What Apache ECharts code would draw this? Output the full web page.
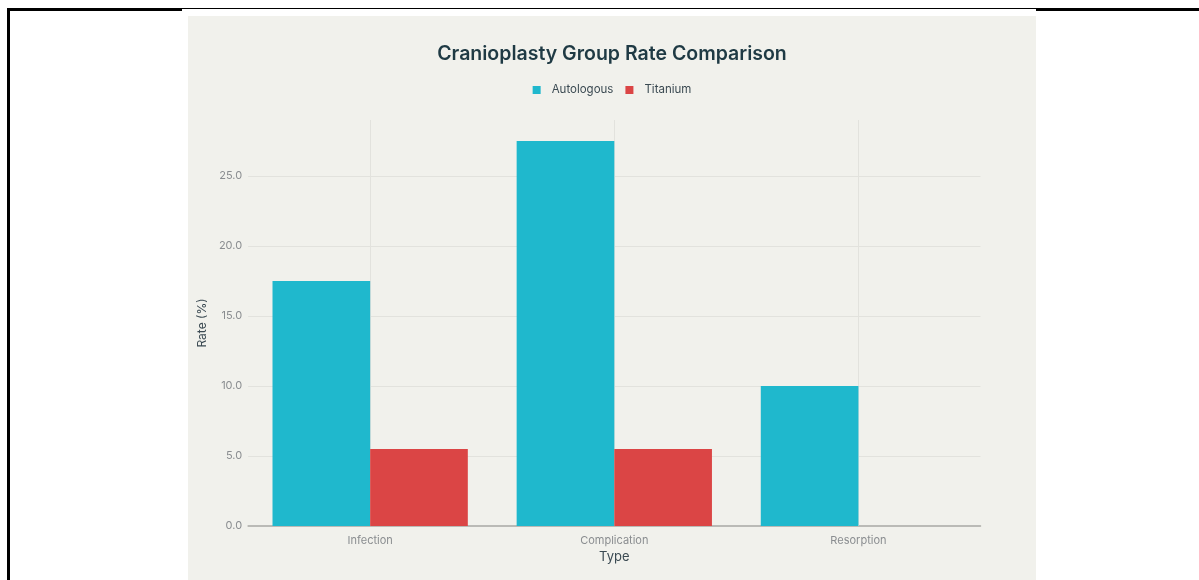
<!DOCTYPE html>
<html>
<head>
<meta charset="utf-8">
<script src="https://cdn.jsdelivr.net/npm/echarts@6/dist/echarts.min.js"></script>
<style>
  html, body { margin: 0; padding: 0; background: #ffffff; }
  body { width: 1199px; height: 580px; position: relative; overflow: hidden; }
  .rule { position: absolute; background: #000; }
  #chart { position: absolute; left: 188px; top: 16px; width: 848px; height: 564px; }
</style>
</head>
<body>
<!-- page frame lines -->
<div class="rule" style="left:7px; top:8px; width:3px; height:572px;"></div>
<div class="rule" style="left:7px; top:8px; width:175px; height:3px;"></div>
<div class="rule" style="left:182px; top:8px; width:854px; height:1px;"></div>
<div class="rule" style="left:1036px; top:8px; width:163px; height:3px;"></div>
<div id="chart"></div>
<script>
// Rates (%) by complication type for each cranioplasty group
const categories = ['Infection', 'Complication', 'Resorption'];
const autologous = [17.5, 27.5, 10.0];
const titanium = [5.5, 5.5, 0];
const seriesNames = ['Autologous', 'Titanium'];

const chart = echarts.init(document.getElementById('chart'));
const font = 'Inter, "Liberation Sans", Arial, sans-serif';
const gridColor = '#e2e2dd';

chart.setOption({
  backgroundColor: '#f1f1ec',
  animation: false,
  title: {
    text: 'Cranioplasty Group Rate Comparison',
    left: 'center',
    top: 23,
    textStyle: { fontFamily: font, fontSize: 19.5, fontWeight: 600, color: '#1f3a44' }
  },
  legend: {
    data: seriesNames,
    top: 63,
    left: 'center',
    icon: 'rect',
    itemWidth: 8,
    itemHeight: 8,
    itemGap: 12,
    textStyle: { fontFamily: font, fontSize: 11.5, color: '#3b4a52', padding: [0, 0, 0, 6] }
  },
  grid: { left: 57.5, right: 55.5, top: 104, bottom: 54 },
  xAxis: {
    type: 'category',
    data: categories,
    name: 'Type',
    nameLocation: 'middle',
    nameGap: 24,
    nameTextStyle: { fontFamily: font, fontSize: 13, color: '#3b4a52' },
    axisLine: { lineStyle: { color: '#a8a8a4', width: 1.5 } },
    axisTick: { show: false },
    axisLabel: { fontFamily: font, fontSize: 11, color: '#8a8d90', margin: 9 },
    splitLine: { show: false }
  },
  yAxis: {
    type: 'value',
    min: 0,
    max: 29,
    interval: 5,
    name: 'Rate (%)',
    nameLocation: 'middle',
    nameGap: 31,
    nameTextStyle: { fontFamily: font, fontSize: 12, color: '#3b4a52' },
    axisLine: { show: false },
    axisTick: { show: false },
    axisLabel: {
      fontFamily: font, fontSize: 11, color: '#8a8d90', margin: 6,
      showMaxLabel: false,
      formatter: v => v.toFixed(1)
    },
    splitLine: { showMinLine: false, showMaxLine: false, lineStyle: { color: gridColor, width: 1 } }
  },
  series: [
    {
      // vertical grid lines through each category centre
      type: 'line',
      data: [],
      silent: true,
      markLine: {
        silent: true,
        symbol: 'none',
        z: 1,
        label: { show: false },
        lineStyle: { type: 'solid', color: gridColor, width: 1 },
        data: categories.map(c => ({ xAxis: c }))
      }
    },
    {
      name: seriesNames[0],
      type: 'bar',
      data: autologous,
      barGap: '0%',
      barCategoryGap: '20%',
      itemStyle: { color: '#1fb8cd' },
      z: 3
    },
    {
      name: seriesNames[1],
      type: 'bar',
      data: titanium,
      barGap: '0%',
      barCategoryGap: '20%',
      itemStyle: { color: '#db4545' },
      z: 3
    }
  ]
});
</script>
</body>
</html>
